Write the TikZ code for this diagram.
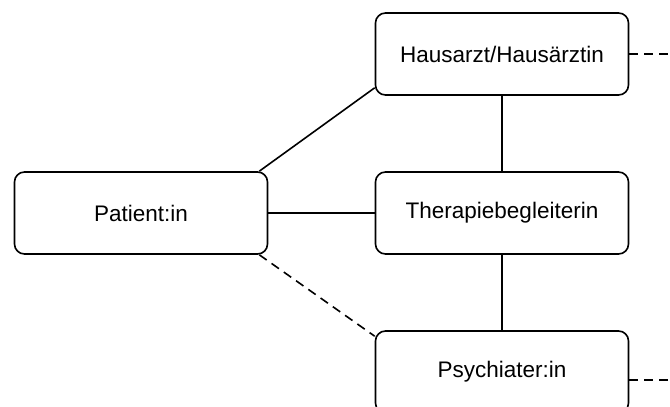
\documentclass[tikz,border=0pt]{standalone}
\usepackage{fontspec}
\setmainfont{Liberation Sans}
\usetikzlibrary{positioning}

\tikzset{
  rolle/.style={draw, rounded corners=10pt, line width=1.6pt,
    minimum width=253pt, minimum height=82pt, font=\fontsize{22.5}{27}\selectfont},
  verb/.style={line width=1.6pt},
  lose/.style={line width=1.6pt, dash pattern=on 9pt off 6pt}
}

\begin{document}
\begin{tikzpicture}[x=1pt,y=-1pt]
\useasboundingbox (0,0) rectangle (670,407);

\node[rolle] (pat) at (141,213) {Patient:in};
\node[rolle] (haus) at (502,54) {Hausarzt/Hausärztin};
\node[rolle] (thera) at (502,213) {Therapiebegleiterin};
\node[rolle] (psy) at (502,372) {Psychiater:in};

\coordinate (hausout) at (670,54);
\coordinate (psyout) at (670,380);

\draw[verb] ([xshift=-9pt]pat.north east) -- ([yshift=8pt]haus.south west);
\draw[verb] (pat.east) -- (thera.west);
\draw[lose] ([xshift=-9pt]pat.south east) -- ([yshift=-6pt]psy.north west);
\draw[verb] (haus.south) -- (thera.north);
\draw[verb] (thera.south) -- (psy.north);

\draw[lose] (haus.east) -- (hausout);
\draw[lose] (psyout -| psy.east) -- (psyout);
\end{tikzpicture}
\end{document}
